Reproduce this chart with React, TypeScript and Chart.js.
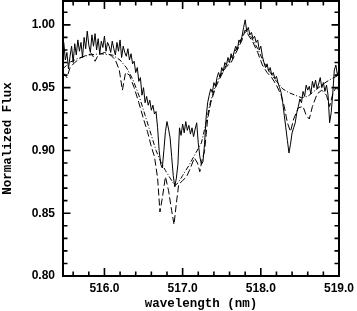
import React, { useEffect, useRef } from "react";
import { Chart, registerables } from "chart.js";

Chart.register(...registerables);

// Observed spectrum (solid)
const OBS_WL = [
  515.48, 515.50, 515.52, 515.54, 515.56, 515.58, 515.60, 515.62, 515.64, 515.66,
  515.68, 515.70, 515.72, 515.74, 515.76, 515.78, 515.80, 515.82, 515.84, 515.86,
  515.88, 515.90, 515.92, 515.94, 515.96, 515.98, 516.00, 516.02, 516.04, 516.06,
  516.08, 516.10, 516.12, 516.14, 516.16, 516.18, 516.20, 516.22, 516.24, 516.26,
  516.28, 516.30, 516.32, 516.34, 516.36, 516.38, 516.40, 516.42, 516.44, 516.46,
  516.48, 516.50, 516.52, 516.54, 516.56, 516.58, 516.60, 516.62, 516.64, 516.66,
  516.68, 516.70, 516.72, 516.74, 516.76, 516.78, 516.80, 516.82, 516.84, 516.86,
  516.88, 516.90, 516.92, 516.94, 516.96, 516.98, 517.00, 517.02, 517.04, 517.06,
  517.08, 517.10, 517.12, 517.14, 517.16, 517.18, 517.20, 517.22, 517.24, 517.26,
  517.28, 517.30, 517.32, 517.34, 517.36, 517.38, 517.40, 517.42, 517.44, 517.46,
  517.48, 517.50, 517.52, 517.54, 517.56, 517.58, 517.60, 517.62, 517.64, 517.66,
  517.68, 517.70, 517.72, 517.74, 517.76, 517.78, 517.80, 517.82, 517.84, 517.86,
  517.88, 517.90, 517.92, 517.94, 517.96, 517.98, 518.00, 518.02, 518.04, 518.06,
  518.08, 518.10, 518.12, 518.14, 518.16, 518.18, 518.20, 518.22, 518.24, 518.26,
  518.28, 518.30, 518.32, 518.34, 518.36, 518.38, 518.40, 518.42, 518.44, 518.46,
  518.48, 518.50, 518.52, 518.54, 518.56, 518.58, 518.60, 518.62, 518.64, 518.66,
  518.68, 518.70, 518.72, 518.74, 518.76, 518.78, 518.80, 518.82, 518.84, 518.86,
  518.88, 518.90, 518.92, 518.94, 518.96, 518.98, 519.00,
];
const OBS_FLUX = [
  0.986, 0.972, 0.978, 0.965, 0.975, 0.983, 0.970, 0.985, 0.976, 0.988,
  0.979, 0.986, 0.974, 0.990, 0.981, 0.995, 0.984, 0.978, 0.992, 0.983,
  0.993, 0.980, 0.989, 0.977, 0.987, 0.982, 0.991, 0.979, 0.986, 0.983,
  0.978, 0.987, 0.981, 0.976, 0.986, 0.979, 0.988, 0.974, 0.983, 0.978,
  0.975, 0.981, 0.972, 0.977, 0.969, 0.971, 0.962, 0.966, 0.955, 0.958,
  0.944, 0.950, 0.938, 0.943, 0.936, 0.940, 0.932, 0.936, 0.929, 0.931,
  0.918, 0.900, 0.889, 0.886, 0.900, 0.915, 0.923, 0.917, 0.910, 0.895,
  0.880, 0.871, 0.878, 0.889, 0.918, 0.912, 0.921, 0.914, 0.923, 0.916,
  0.920, 0.913, 0.918, 0.911, 0.917, 0.922, 0.906, 0.895, 0.889, 0.891,
  0.905, 0.926, 0.938, 0.944, 0.949, 0.946, 0.954, 0.951, 0.958, 0.962,
  0.958, 0.966, 0.963, 0.970, 0.968, 0.974, 0.970, 0.977, 0.973, 0.979,
  0.983, 0.980, 0.988, 0.986, 0.991, 0.998, 1.004, 0.995, 0.998, 0.992,
  0.994, 0.989, 0.991, 0.986, 0.988, 0.980, 0.983, 0.975, 0.970, 0.966,
  0.969, 0.963, 0.966, 0.960, 0.962, 0.957, 0.959, 0.954, 0.950, 0.946,
  0.938, 0.928, 0.918, 0.908, 0.898, 0.905, 0.914, 0.918, 0.922, 0.930,
  0.935, 0.941, 0.938, 0.947, 0.943, 0.952, 0.948, 0.951, 0.945, 0.955,
  0.950, 0.956, 0.949, 0.953, 0.958, 0.950, 0.954, 0.947, 0.952, 0.944,
  0.922, 0.930, 0.945, 0.964, 0.968, 0.960, 0.965,
];

// Synthetic model with lines (dashed)
const DASH_WL = [
  515.47, 515.52, 515.56, 515.62, 515.70, 515.78, 515.84, 515.88, 515.92, 516.00,
  516.08, 516.14, 516.19, 516.23, 516.27, 516.32, 516.38, 516.44, 516.50, 516.55,
  516.60, 516.64, 516.68, 516.71, 516.74, 516.78, 516.82, 516.86, 516.89, 516.92,
  516.95, 517.00, 517.05, 517.10, 517.15, 517.19, 517.22, 517.25, 517.28, 517.32,
  517.36, 517.42, 517.48, 517.55, 517.62, 517.70, 517.76, 517.80, 517.84, 517.90,
  517.96, 518.02, 518.08, 518.14, 518.20, 518.26, 518.30, 518.34, 518.38, 518.42,
  518.48, 518.54, 518.58, 518.62, 518.66, 518.72, 518.78, 518.84, 518.88, 518.92,
  518.96, 519.00,
];
const DASH_FLUX = [
  0.962, 0.958, 0.966, 0.970, 0.974, 0.976, 0.977, 0.971, 0.976, 0.978,
  0.976, 0.972, 0.964, 0.948, 0.962, 0.960, 0.950, 0.938, 0.925, 0.915,
  0.903, 0.895, 0.878, 0.851, 0.862, 0.879, 0.868, 0.852, 0.841, 0.858,
  0.873, 0.876, 0.879, 0.886, 0.894, 0.890, 0.883, 0.893, 0.899, 0.925,
  0.938, 0.950, 0.958, 0.966, 0.970, 0.980, 0.988, 0.996, 0.992, 0.986,
  0.978, 0.968, 0.962, 0.958, 0.952, 0.944, 0.935, 0.922, 0.915, 0.925,
  0.934, 0.935, 0.928, 0.925, 0.935, 0.945, 0.948, 0.944, 0.935, 0.945,
  0.950, 0.948,
];

// Smooth model (dash-dot)
const DOT_WL = [
  515.47, 515.55, 515.65, 515.80, 515.95, 516.10, 516.20, 516.28, 516.36, 516.44,
  516.52, 516.60, 516.66, 516.72, 516.78, 516.84, 516.90, 516.94, 517.00, 517.08,
  517.16, 517.24, 517.30, 517.36, 517.44, 517.52, 517.60, 517.70, 517.78, 517.82,
  517.88, 517.96, 518.04, 518.12, 518.20, 518.28, 518.36, 518.44, 518.52, 518.60,
  518.70, 518.80, 518.90, 519.00,
];
const DOT_FLUX = [
  0.965, 0.970, 0.973, 0.976, 0.977, 0.976, 0.972, 0.966, 0.957, 0.944,
  0.928, 0.912, 0.900, 0.891, 0.884, 0.878, 0.872, 0.874, 0.880, 0.888,
  0.897, 0.906, 0.922, 0.940, 0.955, 0.964, 0.972, 0.982, 0.993, 0.995,
  0.990, 0.981, 0.970, 0.962, 0.955, 0.949, 0.946, 0.944, 0.942, 0.943,
  0.948, 0.953, 0.957, 0.960,
];

const X_TICKS = [516.0, 517.0, 518.0, 519.0];
const Y_TICKS = [0.8, 0.85, 0.9, 0.95, 1.0];

const X_MIN = 515.47;
const X_MAX = 519.0;
const Y_MIN = 0.8;
const Y_MAX = 1.019;

const LABEL_FONT = { family: "'Liberation Sans', Arial, sans-serif", size: 12, weight: "bold" as const };
const TITLE_FONT = { family: "'Liberation Mono', 'Courier New', monospace", size: 12.5, weight: "bold" as const, lineHeight: 1.2 };

const frameTicks = {
  id: "frameTicks",
  afterDatasetsDraw(chart: any) {
    const { ctx, chartArea } = chart;
    const { left, right, top, bottom } = chartArea;
    const x = chart.scales.x;
    const y = chart.scales.y;
    ctx.save();
    ctx.strokeStyle = "#000";
    ctx.lineWidth = 1.6;
    ctx.beginPath();
    const xs = Math.ceil(X_MIN / 0.2 - 1e-6);
    const xe = Math.floor(X_MAX / 0.2 + 1e-6);
    for (let i = xs; i <= xe; i++) {
      const v = i * 0.2;
      const major = Math.abs(v - Math.round(v)) < 1e-6;
      const len = major ? 8 : 4.5;
      const px = x.getPixelForValue(v);
      ctx.moveTo(px, bottom);
      ctx.lineTo(px, bottom - len);
      ctx.moveTo(px, top);
      ctx.lineTo(px, top + len);
    }
    const ys = Math.ceil(Y_MIN / 0.01 - 1e-6);
    const ye = Math.floor(Y_MAX / 0.01 + 1e-6);
    for (let i = ys; i <= ye; i++) {
      const v = i * 0.01;
      const major = i % 5 === 0;
      const len = major ? 7.5 : 4.5;
      const py = y.getPixelForValue(v);
      ctx.moveTo(left, py);
      ctx.lineTo(left + len, py);
      ctx.moveTo(right, py);
      ctx.lineTo(right - len, py);
    }
    ctx.stroke();
    ctx.lineWidth = 2;
    ctx.strokeRect(left, top, right - left, bottom - top);
    ctx.restore();
  },
};

function toPoints(xs: number[], ys: number[]) {
  return xs.map((v, i) => ({ x: v, y: ys[i] }));
}

export default function App() {
  const ref = useRef<HTMLCanvasElement | null>(null);
  useEffect(() => {
    if (!ref.current) return;
    const chart = new Chart(ref.current, {
      type: "line",
      data: {
        datasets: [
          {
            data: toPoints(OBS_WL, OBS_FLUX),
            borderColor: "#000",
            borderWidth: 1,
            pointRadius: 0,
            tension: 0,
          },
          {
            data: toPoints(DASH_WL, DASH_FLUX),
            borderColor: "#000",
            borderWidth: 1,
            borderDash: [7, 3],
            pointRadius: 0,
            tension: 0,
          },
          {
            data: toPoints(DOT_WL, DOT_FLUX),
            borderColor: "#000",
            borderWidth: 1,
            borderDash: [5, 2, 1, 2],
            pointRadius: 0,
            tension: 0,
          },
        ],
      },
      options: {
        responsive: false,
        animation: false,
        layout: { padding: { left: 0, right: 18, top: 1, bottom: 0 } },
        plugins: { legend: { display: false }, tooltip: { enabled: false } },
        scales: {
          x: {
            type: "linear",
            min: X_MIN,
            max: X_MAX,
            grid: { display: false, drawTicks: false },
            border: { display: false },
            afterBuildTicks: (s: any) => {
              s.ticks = X_TICKS.map((v) => ({ value: v }));
            },
            afterFit: (s: any) => {
              s.height = 35;
              s.paddingLeft = 0;
              s.paddingRight = 0;
            },
            ticks: {
              autoSkip: false,
              maxRotation: 0,
              padding: 5,
              color: "#000",
              font: LABEL_FONT,
              callback: (v: any) => Number(v).toFixed(1),
            },
            title: {
              display: true,
              text: "wavelength (nm)",
              color: "#000",
              font: TITLE_FONT,
              padding: 0,
            },
          },
          y: {
            type: "linear",
            min: Y_MIN,
            max: Y_MAX,
            grid: { display: false, drawTicks: false },
            border: { display: false },
            afterBuildTicks: (s: any) => {
              s.ticks = Y_TICKS.map((v) => ({ value: v }));
            },
            afterFit: (s: any) => {
              s.width = 63;
              s.paddingTop = 0;
              s.paddingBottom = 0;
            },
            ticks: {
              padding: 8,
              color: "#000",
              font: LABEL_FONT,
              callback: (v: any) => Number(v).toFixed(2),
            },
            title: {
              display: true,
              text: "Normalized Flux",
              color: "#000",
              font: TITLE_FONT,
              padding: 0,
            },
          },
        },
      },
      plugins: [frameTicks],
    });
    return () => chart.destroy();
  }, []);
  return (
    <div style={{ position: "fixed", left: 0, top: 0, width: 357, height: 311, background: "#fff" }}>
      <canvas ref={ref} width={357} height={311} />
    </div>
  );
}
